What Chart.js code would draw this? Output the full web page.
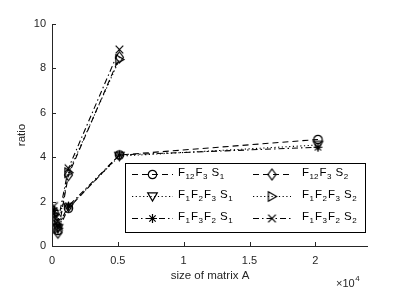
<!DOCTYPE html>
<html>
<head>
<meta charset="utf-8">
<script src="https://cdn.jsdelivr.net/npm/chart.js@4/dist/chart.umd.min.js"></script>
<style>html,body{margin:0;padding:0;background:#fff}</style>
</head>
<body>
<canvas id="c" width="407" height="290" style="width:407px;height:290px"></canvas>
<script>
// data
var sizeS1 = [150, 450, 1250, 5120, 20200]
var sizeS2 = [150, 450, 1250, 5120]
var f12f3s1 = [1.5, 0.7, 1.7, 4.1, 4.8]
var f1f2f3s1 = [1.3, 0.8, 1.75, 4.05, 4.55]
var f1f3f2s1 = [1.6, 0.9, 1.8, 4.1, 4.45]
var f12f3s2 = [1.2, 0.6, 3.2, 8.5]
var f1f2f3s2 = [1.4, 0.8, 3.3, 8.4]
var f1f3f2s2 = [1.8, 1.1, 3.5, 8.85]
var xTicks = [0, 5000, 10000, 15000, 20000]
var yTicks = [0, 2, 4, 6, 8, 10]

var FONT = "'Liberation Sans', Arial, sans-serif"
var INK = '#262626'

function marker(kind) {
    var c = document.createElement('canvas')
    c.width = 15; c.height = 15
    var g = c.getContext('2d')
    g.strokeStyle = '#000'
    g.lineWidth = 1.2
    g.translate(7.5, 7.5)
    g.beginPath()
    if (kind == 'circle') {
        g.arc(0, 0, 4.2, 0, Math.PI * 2)
    } else if (kind == 'down') {
        g.moveTo(-4.8, -3.6); g.lineTo(4.8, -3.6); g.lineTo(0, 4.6); g.closePath()
    } else if (kind == 'right') {
        g.moveTo(-3.6, -4.8); g.lineTo(4.6, 0); g.lineTo(-3.6, 4.8); g.closePath()
    } else if (kind == 'diamond') {
        g.moveTo(0, -5.5); g.lineTo(4, 0); g.lineTo(0, 5.5); g.lineTo(-4, 0); g.closePath()
    } else if (kind == 'star') {
        g.moveTo(-4.5, 0); g.lineTo(4.5, 0)
        g.moveTo(0, -4.5); g.lineTo(0, 4.5)
        g.moveTo(-3.2, -3.2); g.lineTo(3.2, 3.2)
        g.moveTo(-3.2, 3.2); g.lineTo(3.2, -3.2)
    } else if (kind == 'cross') {
        g.moveTo(-3.8, -3.8); g.lineTo(3.8, 3.8)
        g.moveTo(-3.8, 3.8); g.lineTo(3.8, -3.8)
    }
    g.stroke()
    return c
}

function pts(xs, ys) {
    var out = []
    for (let i = 0; i < xs.length; i++) out.push({x: xs[i], y: ys[i]})
    return out
}

var DASH = [6, 4], DOT = [1.2, 2.5], DASHDOT = [6, 3, 1.5, 3]

var series = [
    {label: [['F'], ['12', 1], ['F'], ['3', 1], [' S'], ['1', 1]], xs: sizeS1, ys: f12f3s1, m: 'circle', dash: DASH},
    {label: [['F'], ['12', 1], ['F'], ['3', 1], [' S'], ['2', 1]], xs: sizeS2, ys: f12f3s2, m: 'diamond', dash: DASH},
    {label: [['F'], ['1', 1], ['F'], ['2', 1], ['F'], ['3', 1], [' S'], ['1', 1]], xs: sizeS1, ys: f1f2f3s1, m: 'down', dash: DOT},
    {label: [['F'], ['1', 1], ['F'], ['2', 1], ['F'], ['3', 1], [' S'], ['2', 1]], xs: sizeS2, ys: f1f2f3s2, m: 'right', dash: DOT},
    {label: [['F'], ['1', 1], ['F'], ['3', 1], ['F'], ['2', 1], [' S'], ['1', 1]], xs: sizeS1, ys: f1f3f2s1, m: 'star', dash: DASHDOT},
    {label: [['F'], ['1', 1], ['F'], ['3', 1], ['F'], ['2', 1], [' S'], ['2', 1]], xs: sizeS2, ys: f1f3f2s2, m: 'cross', dash: DASHDOT}
]
series.forEach(function (s) { s.img = marker(s.m) })

var datasets = series.map(function (s) {
    return {
        data: pts(s.xs, s.ys),
        borderColor: '#000',
        borderWidth: 1.1,
        borderDash: s.dash,
        pointStyle: s.img,
        pointRadius: 5,
        fill: false,
        tension: 0
    }
})

function drawRich(ctx, parts, x, y) {
    for (let i = 0; i < parts.length; i++) {
        var sub = parts[i][1]
        ctx.font = (sub ? 8 : 11.5) + 'px ' + FONT
        ctx.fillText(parts[i][0], x, sub ? y + 4 : y)
        x += ctx.measureText(parts[i][0]).width + (sub ? 1 : 0.5)
    }
}

var decor = {
    id: 'decor',
    afterDraw: function (chart) {
        var ctx = chart.ctx, a = chart.chartArea
        var xs = chart.scales.x, ys = chart.scales.y
        ctx.save()
        ctx.strokeStyle = INK
        ctx.lineWidth = 1
        ctx.setLineDash([])
        ctx.beginPath()
        ctx.moveTo(a.left + 0.5, a.top); ctx.lineTo(a.left + 0.5, a.bottom + 0.5); ctx.lineTo(a.right, a.bottom + 0.5)
        xTicks.forEach(function (v) {
            var px = Math.round(xs.getPixelForValue(v)) + 0.5
            ctx.moveTo(px, a.bottom); ctx.lineTo(px, a.bottom - 4)
        })
        yTicks.forEach(function (v) {
            var py = Math.round(ys.getPixelForValue(v)) + 0.5
            ctx.moveTo(a.left, py); ctx.lineTo(a.left + 4, py)
        })
        ctx.stroke()

        // axis titles
        ctx.fillStyle = INK
        ctx.font = '11.5px ' + FONT
        ctx.textAlign = 'center'
        ctx.textBaseline = 'middle'
        ctx.fillText('size of matrix A', (a.left + a.right) / 2, 276)
        ctx.save()
        ctx.translate(22, (a.top + a.bottom) / 2)
        ctx.rotate(-Math.PI / 2)
        ctx.fillText('ratio', 0, 0)
        ctx.restore()
        ctx.textAlign = 'left'
        ctx.font = '11px ' + FONT
        ctx.fillText('\u00d710', 336, 284)
        var w = ctx.measureText('\u00d710').width
        ctx.font = '8px ' + FONT
        ctx.fillText('4', 336 + w + 0.5, 279)

        // legend
        var L = 125.5, T = 163.5, W = 240, H = 69
        ctx.fillStyle = '#fff'
        ctx.fillRect(L, T, W, H)
        ctx.strokeStyle = '#000'
        ctx.lineWidth = 1
        ctx.strokeRect(L, T, W, H)
        var rowY = [174, 196, 218]
        var colX = [[132, 173, 178], [253, 291, 302]]
        series.forEach(function (s, i) {
            var r = Math.floor(i / 2), c = i % 2
            var y = rowY[r], cx = colX[c]
            ctx.strokeStyle = '#000'
            ctx.lineWidth = 1.1
            ctx.setLineDash(s.dash)
            ctx.beginPath()
            ctx.moveTo(cx[0], y + 0.5); ctx.lineTo(cx[1], y + 0.5)
            ctx.stroke()
            ctx.setLineDash([])
            ctx.drawImage(s.img, (cx[0] + cx[1]) / 2 - 7.5, y - 7)
            ctx.fillStyle = '#000'
            ctx.textBaseline = 'middle'
            drawRich(ctx, s.label, cx[2], y - 1)
        })
        ctx.restore()
    }
}

new Chart(document.getElementById('c'), {
    type: 'line',
    data: {datasets: datasets},
    plugins: [decor],
    options: {
        responsive: false,
        animation: false,
        layout: {padding: {left: 0, top: 24, right: 39, bottom: 0}},
        plugins: {legend: {display: false}, tooltip: {enabled: false}},
        scales: {
            x: {
                type: 'linear', min: 0, max: 24000,
                afterFit: function (s) { s.height = 44 },
                afterBuildTicks: function (s) { s.ticks = xTicks.map(function (v) { return {value: v} }) },
                grid: {display: false, drawTicks: false},
                border: {display: false},
                ticks: {
                    padding: 8, color: INK, font: {family: FONT, size: 11},
                    callback: function (v) { return String(v / 10000) }
                }
            },
            y: {
                min: 0, max: 10,
                afterFit: function (s) { s.width = 52 },
                afterBuildTicks: function (s) { s.ticks = yTicks.map(function (v) { return {value: v} }) },
                grid: {display: false, drawTicks: false},
                border: {display: false},
                ticks: {padding: 6, color: INK, font: {family: FONT, size: 11}}
            }
        }
    }
})
</script>
</body>
</html>
